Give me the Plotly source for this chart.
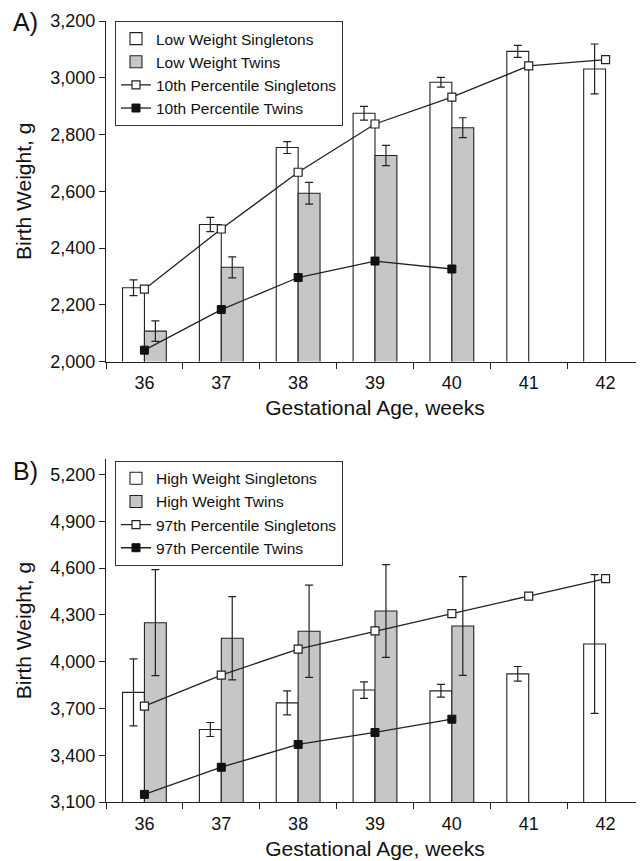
import plotly.graph_objects as go

weeks = ["36", "37", "38", "39", "40", "41", "42"]

# Panel A (low weight)
low_single = [2260, 2483, 2754, 2875, 2984, 3093, 3031]
low_single_err = [28, 25, 21, 24, 17, 21, 88]
low_twin = [2107, 2332, 2593, 2726, 2824, None, None]
low_twin_err = [36, 37, 38, 36, 35, None, None]
p10_single = [2255, 2467, 2667, 2837, 2932, 3042, 3064]
p10_twin = [2040, 2183, 2296, 2354, 2326, None, None]

# Panel B (high weight)
high_single = [3803, 3565, 3736, 3818, 3813, 3922, 4113]
high_single_err = [215, 45, 77, 53, 41, 47, 445]
high_twin = [4250, 4150, 4195, 4325, 4229, None, None]
high_twin_err = [340, 267, 296, 297, 317, None, None]
p97_single = [3715, 3914, 4081, 4197, 4308, 4421, 4533]
p97_twin = [3149, 3323, 3469, 3546, 3631, None, None]

FONT = "Liberation Sans, Arial, sans-serif"
EDGE = "#222222"
GRAY = "#c6c6c8"

fig = go.Figure()

def add_panel(xa, ya, leg, bar_s, err_s, bar_t, err_t, ln_s, ln_t, names):
    fig.add_trace(go.Bar(
        x=weeks, y=bar_s, name=names[0], xaxis=xa, yaxis=ya, legend=leg,
        marker=dict(color="white", line=dict(color=EDGE, width=1.1)),
        error_y=dict(type="data", array=err_s, color=EDGE, thickness=1.2, width=4),
    ))
    fig.add_trace(go.Bar(
        x=weeks, y=bar_t, name=names[1], xaxis=xa, yaxis=ya, legend=leg,
        marker=dict(color=GRAY, line=dict(color=EDGE, width=1.1)),
        error_y=dict(type="data", array=err_t, color=EDGE, thickness=1.2, width=4),
    ))
    fig.add_trace(go.Scatter(
        x=weeks, y=ln_s, name=names[2], xaxis=xa, yaxis=ya, legend=leg,
        mode="lines+markers", line=dict(color=EDGE, width=1.3),
        marker=dict(symbol="square", size=8, color="white", line=dict(color=EDGE, width=1.2)),
    ))
    fig.add_trace(go.Scatter(
        x=weeks, y=ln_t, name=names[3], xaxis=xa, yaxis=ya, legend=leg,
        mode="lines+markers", line=dict(color=EDGE, width=1.3),
        marker=dict(symbol="square", size=8, color="#111111", line=dict(color="#111111", width=1)),
    ))

add_panel("x", "y", "legend", low_single, low_single_err, low_twin, low_twin_err,
          p10_single, p10_twin,
          ["Low Weight Singletons", "Low Weight Twins",
           "10th Percentile Singletons", "10th Percentile Twins"])
add_panel("x2", "y2", "legend2", high_single, high_single_err, high_twin, high_twin_err,
          p97_single, p97_twin,
          ["High Weight Singletons", "High Weight Twins",
           "97th Percentile Singletons", "97th Percentile Twins"])

xcommon = dict(type="category", range=[-0.5, 6.5], tickson="boundaries", ticks="outside",
               ticklen=6, tickcolor=EDGE, showline=True, linecolor=EDGE, linewidth=1.2,
               showgrid=False, zeroline=False, automargin=False, ticklabelstandoff=5,
               tickfont=dict(size=18, color="#111"),
               title=dict(text="Gestational Age, weeks", font=dict(size=21, color="#111"), standoff=8))
ycommon = dict(ticks="outside", ticklen=6, tickcolor=EDGE, showline=True, linecolor=EDGE,
               linewidth=1.2, showgrid=False, zeroline=False, tickformat=",", automargin=False,
               tickfont=dict(size=18, color="#111"),
               title=dict(text="Birth Weight, g", font=dict(size=21, color="#111"), standoff=12))

legcommon = dict(x=0.0167, xanchor="left", yanchor="top", bgcolor="white",
                 bordercolor="#333", borderwidth=1, font=dict(size=15.5, color="#111"),
                 tracegroupgap=0, itemwidth=30)

# page body has an 8px default margin; size the figure so the plot lands where the reference has it
fig.update_layout(
    width=636, height=853,
    margin=dict(l=98, r=0, t=13, b=59, autoexpand=False),
    paper_bgcolor="white", plot_bgcolor="white",
    font=dict(family=FONT, color="#111"),
    barmode="group", bargap=0.43, bargroupgap=0,
    xaxis=dict(anchor="y", domain=[0, 1], **xcommon),
    yaxis=dict(anchor="x", domain=[0.564, 1.0], range=[2000, 3200], dtick=200, **ycommon),
    xaxis2=dict(anchor="y2", domain=[0, 1], **xcommon),
    yaxis2=dict(anchor="x2", domain=[0, 0.4392], range=[3100, 5300],
                tickvals=[3100, 3400, 3700, 4000, 4300, 4600, 4900, 5200], **ycommon),
    legend=dict(y=1.0, **legcommon),
    legend2=dict(y=0.437, **legcommon),
    showlegend=True,
    annotations=[
        dict(text="A)", xref="paper", yref="paper", x=-0.1766, y=0.9987,
             xanchor="left", yanchor="middle", showarrow=False, font=dict(size=25, color="#111")),
        dict(text="B)", xref="paper", yref="paper", x=-0.1766, y=0.4238,
             xanchor="left", yanchor="middle", showarrow=False, font=dict(size=25, color="#111")),
    ],
)

fig.write_html("out.html")
